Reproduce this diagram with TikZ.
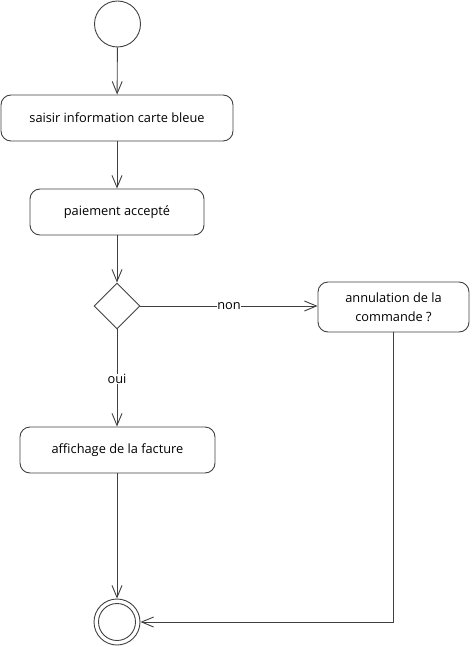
\documentclass[tikz,border=0pt]{standalone}
\usepackage{fontspec}
\setmainfont{Open Sans}
\usetikzlibrary{shapes.geometric,arrows.meta}
\definecolor{ln}{HTML}{404040}
\begin{document}
\begin{tikzpicture}[x=1pt,y=-1pt,
  every node/.style={font=\fontsize{12.8}{19}\selectfont, text=black},
  act/.style={draw=ln, line width=0.9pt, rounded corners=10pt, inner sep=0pt, align=center},
  flow/.style={draw=ln, line width=0.9pt, -{Straight Barb[length=12pt,width=10pt,line width=0.9pt]}},
  lbl/.style={fill=white, inner sep=0.5pt}]
\useasboundingbox (0,0) rectangle (471,647);
\node[draw=ln, line width=0.9pt, circle, minimum size=46pt, inner sep=0pt] (start) at (117.5,24) {};
\node[act, minimum width=232pt, minimum height=46pt] (b1) at (117,118) {saisir information carte bleue};
\node[act, minimum width=174pt, minimum height=46pt] (b2) at (117,212) {paiement accepté};
\node[draw=ln, line width=0.9pt, diamond, minimum width=46pt, minimum height=46pt, inner sep=0pt] (dec) at (117,306) {};
\node[act, minimum width=151pt, minimum height=50pt] (b3) at (393.5,307) {annulation de la\\commande ?};
\node[act, minimum width=195pt, minimum height=46pt] (b4) at (117.5,450) {affichage de la facture};
\node[draw=ln, line width=0.9pt, circle, minimum size=46pt, inner sep=0pt] (endo) at (117,622) {};
\node[draw=ln, line width=0.9pt, circle, minimum size=37pt, inner sep=0pt] (endi) at (117,622) {};
\coordinate (corner) at (b3.south |- endo);
\draw[flow] (start) -- (b1);
\draw[flow] (b1) -- (b2);
\draw[flow] (b2) -- (dec.north);
\draw[flow] (dec.east) -- node[lbl, pos=0.5] {non} (b3.west |- dec.east);
\draw[flow] (dec.south) -- node[lbl, pos=0.51] {oui} (b4.north -| dec.south);
\draw[flow] (b4.south -| endo.north) -- (endo.north);
\draw[flow] (b3.south) -- (corner) -- (endo.east);
\end{tikzpicture}
\end{document}
